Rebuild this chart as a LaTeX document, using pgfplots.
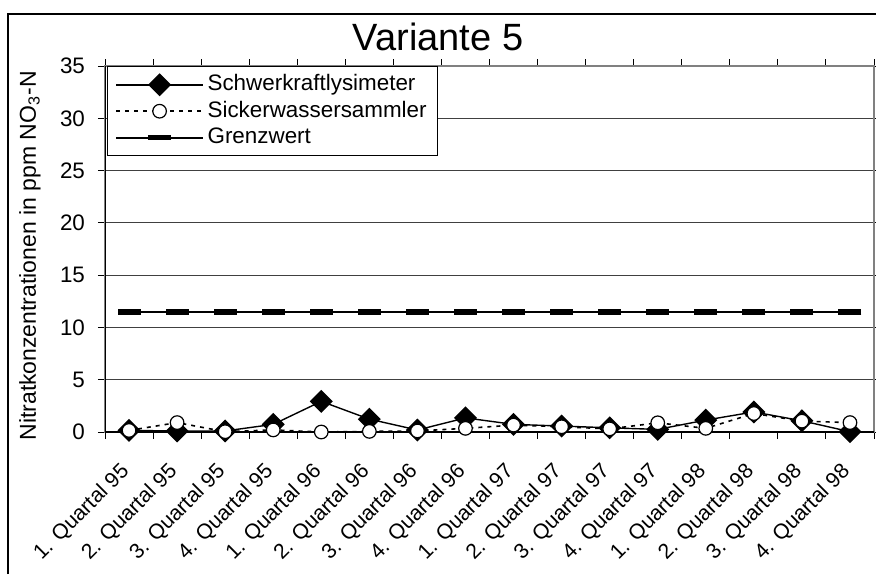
\documentclass[border=0pt]{standalone}
\usepackage{fontspec}
\setmainfont{Liberation Sans}
\usepackage{pgfplots}
\pgfplotsset{compat=1.18}
\newcommand{\lblfont}{\fontsize{11.2}{13.4}\selectfont}
\begin{document}
\begin{tikzpicture}
\useasboundingbox (0,0) rectangle (438pt,287pt);
% chart frame
\draw[line width=0.6pt] (4pt,0pt) -- (4pt,280pt) -- (440pt,280pt);
\node[font=\fontsize{19}{22}\selectfont] at (219pt,268.5pt) {Variante 5};
\begin{axis}[
  at={(52.5pt,71pt)}, anchor=south west,
  scale only axis, width=384.5pt, height=183pt,
  xmin=-0.5, xmax=15.5, ymin=0, ymax=35,
  ytick={0,5,...,35},
  ymajorgrids, grid style={line width=0.5pt, black!75},
  axis line style={draw=black!50, line width=0.6pt},
  tick align=outside,
  major tick length=3.5pt, minor tick length=3.5pt,
  tick style={black, line width=0.5pt},
  xtick={0,...,15},
  major x tick style={draw=none},
  minor xtick={-0.5,0.5,...,15.5},
  xticklabels={1. Quartal 95,2. Quartal 95,3. Quartal 95,4. Quartal 95,
               1. Quartal 96,2. Quartal 96,3. Quartal 96,4. Quartal 96,
               1. Quartal 97,2. Quartal 97,3. Quartal 97,4. Quartal 97,
               1. Quartal 98,2. Quartal 98,3. Quartal 98,4. Quartal 98},
  xticklabel style={font=\fontsize{10.6}{12.7}\selectfont, inner sep=0pt, xshift=-5pt, yshift=-11pt, rotate=45, anchor=north east},
  yticklabel style={font=\lblfont, xshift=-3pt},
  /pgf/number format/assume math mode=true,
  ylabel={Nitratkonzentrationen in ppm NO\textsubscript{3}-N},
  every axis y label/.style={at={(axis description cs:-0.0975,0.481)}, rotate=90, anchor=center,
    font=\fontsize{11.5}{13.8}\selectfont},
  legend style={at={(axis description cs:0.0026,1)}, anchor=north west,
    draw=black, line width=0.6pt, fill=white, font=\lblfont,
    inner xsep=3.75pt, inner ysep=2.5pt, row sep=0pt,
    nodes={inner xsep=1.75pt, inner ysep=1.1pt, text height=8.5pt, text depth=2.5pt}},
  legend cell align=left,
  legend image code/.code={\draw[mark repeat=2,mark phase=2] plot coordinates {(0pt,0pt) (21.75pt,0pt) (43.5pt,0pt)};},
]
% axis lines in black
\draw[black, line width=0.6pt] (rel axis cs:0,0) -- (rel axis cs:0,1);
\draw[black, line width=0.6pt] (rel axis cs:0,0) -- (rel axis cs:1,0);

\addplot[black, line width=0.7pt, mark=diamond*, mark size=5.25pt,
  mark options={solid, xscale=1.333, fill=black}]
  coordinates {(0,0.15) (1,0.1) (2,0.1) (3,0.73) (4,2.93) (5,1.23) (6,0.19) (7,1.35)
               (8,0.73) (9,0.57) (10,0.4) (11,0.25) (12,1.14) (13,1.92) (14,1.07) (15,0.03)};
\addlegendentry{Schwerkraftlysimeter}

\addplot[black, line width=0.8pt, dash pattern=on 2pt off 2.5pt, mark=*, mark size=3.4pt,
  mark options={solid, fill=white, line width=0.6pt}]
  coordinates {(0,0.15) (1,0.9) (2,0.03) (3,0.2) (4,0.0) (5,0.06) (6,0.1) (7,0.35)
               (8,0.66) (9,0.5) (10,0.3) (11,0.88) (12,0.35) (13,1.77) (14,1.04) (15,0.9)};
\addlegendentry{Sickerwassersammler}

\addplot[black, line width=1pt, mark=-, mark size=5.75pt,
  mark options={solid, line width=2.8pt}]
  coordinates {(0,11.5) (1,11.5) (2,11.5) (3,11.5) (4,11.5) (5,11.5) (6,11.5) (7,11.5)
               (8,11.5) (9,11.5) (10,11.5) (11,11.5) (12,11.5) (13,11.5) (14,11.5) (15,11.5)};
\addlegendentry{Grenzwert}
\end{axis}
\end{tikzpicture}
\end{document}
